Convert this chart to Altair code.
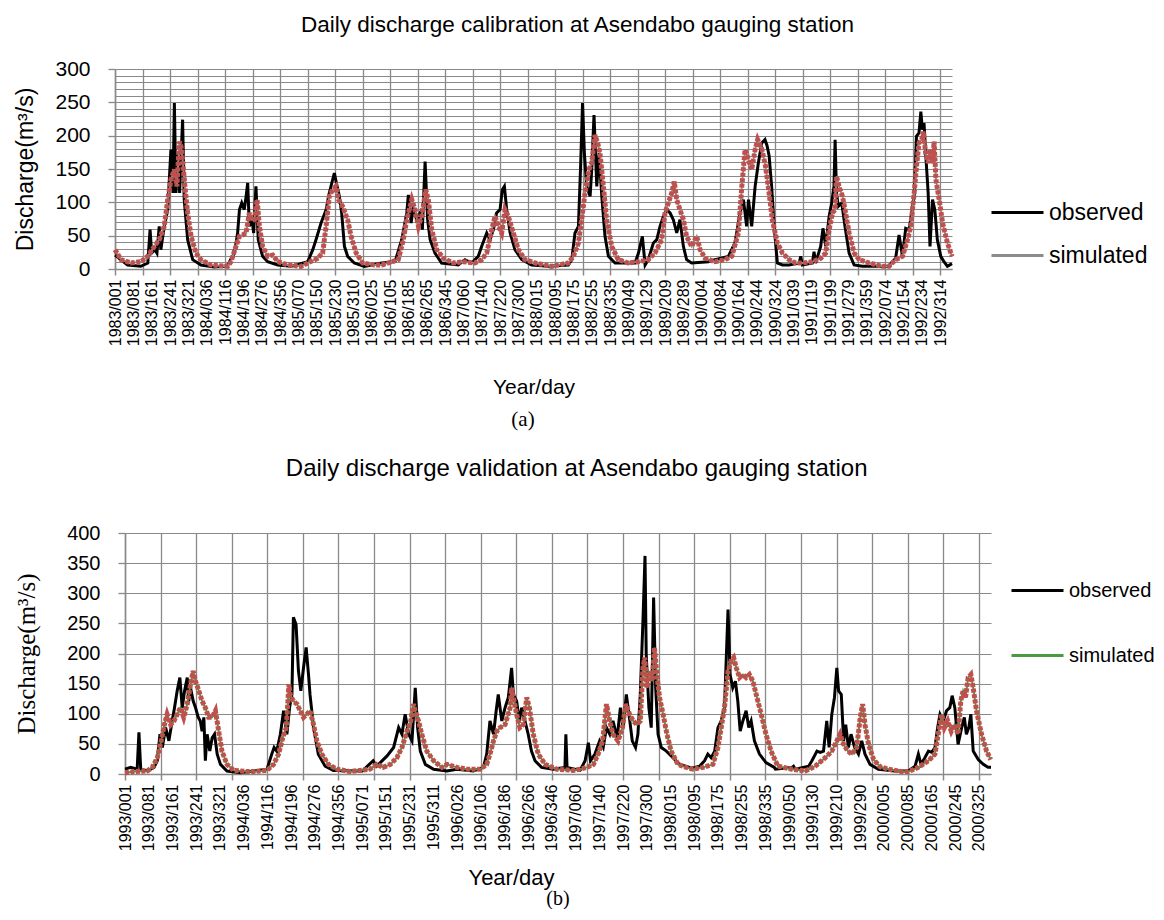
import json
import altair as alt
import pandas as pd

# ---------------- text ----------------
cal_title = "Daily discharge calibration at Asendabo gauging station"
val_title = "Daily discharge validation at Asendabo gauging station"
y_title = "Discharge(m³/s)"
x_title = "Year/day"
series_names = ["observed", "simulated"]
captions = ["(a)", "(b)"]

# tick labels, one every 80 days from the first day of each period
cal_ticks = ["1983/001", "1983/081", "1983/161", "1983/241", "1983/321",
             "1984/036", "1984/116", "1984/196", "1984/276", "1984/356",
             "1985/070", "1985/150", "1985/230", "1985/310",
             "1986/025", "1986/105", "1986/185", "1986/265", "1986/345",
             "1987/060", "1987/140", "1987/220", "1987/300",
             "1988/015", "1988/095", "1988/175", "1988/255", "1988/335",
             "1989/049", "1989/129", "1989/209", "1989/289",
             "1990/004", "1990/084", "1990/164", "1990/244", "1990/324",
             "1991/039", "1991/119", "1991/199", "1991/279", "1991/359",
             "1992/074", "1992/154", "1992/234", "1992/314"]
val_ticks = ["1993/001", "1993/081", "1993/161", "1993/241", "1993/321",
             "1994/036", "1994/116", "1994/196", "1994/276", "1994/356",
             "1995/071", "1995/151", "1995/231", "1995/311",
             "1996/026", "1996/106", "1996/186", "1996/266", "1996/346",
             "1997/060", "1997/140", "1997/220", "1997/300",
             "1998/015", "1998/095", "1998/175", "1998/255", "1998/335",
             "1999/050", "1999/130", "1999/210", "1999/290",
             "2000/005", "2000/085", "2000/165", "2000/245", "2000/325"]

# ---------------- data: (day index, discharge m3/s) ----------------
# calibration, day 0 = 1983/001
cal_observed = [
    (0, 21), (55, 6), (113, 4), (143, 9), (153, 59), (160, 24), (175, 29), (183, 24), (193, 64), (200, 29),
    (215, 64), (230, 89), (244, 179), (253, 114), (259, 249), (266, 114), (273, 174), (282, 114), (295, 224),
    (302, 104), (317, 44), (339, 14), (375, 6), (433, 3), (477, 4),
    (492, 6), (521, 24), (535, 54), (543, 89), (553, 99), (564, 89), (572, 109), (579, 129), (586, 64),
    (596, 79), (605, 54), (615, 124), (625, 44), (644, 19), (666, 11), (710, 6), (768, 4),
    (841, 11), (863, 29), (877, 44), (899, 69), (921, 89), (935, 114), (957, 144), (969, 124), (979, 109),
    (989, 84), (1001, 34), (1015, 19), (1044, 9), (1088, 4),
    (1164, 9), (1222, 11), (1251, 44), (1273, 84), (1280, 111), (1292, 69), (1302, 94), (1316, 74),
    (1331, 84), (1341, 59), (1353, 161), (1364, 74), (1375, 44), (1396, 24), (1425, 9), (1498, 6),
    (1527, 14), (1556, 9),
    (1585, 19), (1600, 34), (1622, 54), (1636, 44), (1651, 59), (1665, 84), (1680, 89), (1690, 119),
    (1699, 124), (1709, 89), (1724, 54), (1745, 29), (1775, 14), (1818, 6), (1891, 4), (1978, 6),
    (1993, 14), (2007, 54), (2022, 64), (2032, 159), (2040, 249), (2048, 174), (2058, 124), (2073, 109),
    (2080, 149), (2090, 231), (2102, 124), (2112, 174), (2124, 109), (2138, 49), (2153, 19), (2182, 9),
    (2240, 9),
    (2269, 9), (2284, 24), (2301, 49), (2313, 6), (2327, 14), (2349, 39), (2364, 44), (2378, 64),
    (2393, 79), (2407, 89), (2422, 84), (2436, 74), (2451, 54), (2465, 74), (2480, 34), (2494, 14),
    (2516, 9), (2589, 11), (2618, 14),
    (2676, 19), (2705, 39), (2727, 84), (2742, 104), (2756, 64), (2764, 104), (2778, 64), (2793, 124),
    (2807, 159), (2822, 189), (2836, 194), (2845, 185), (2854, 170), (2865, 124), (2876, 64), (2890, 9),
    (2912, 6),
    (2941, 6), (2985, 9), (2992, 19), (2999, 6), (3043, 9), (3050, 26), (3057, 9), (3079, 34), (3089, 61),
    (3101, 34), (3116, 79), (3127, 99), (3137, 124), (3142, 194), (3148, 114), (3156, 94), (3171, 99),
    (3185, 64), (3203, 24), (3225, 6), (3261, 4), (3319, 4),
    (3377, 4), (3406, 16), (3421, 51), (3436, 19), (3450, 61), (3465, 59), (3476, 84), (3487, 109),
    (3497, 199), (3508, 204), (3516, 236), (3523, 209), (3530, 219), (3537, 174), (3548, 114), (3556, 34),
    (3567, 104), (3577, 89), (3588, 44), (3603, 19), (3617, 11), (3632, 4), (3652, 8),
]
cal_simulated = [
    (0, 29), (26, 14), (70, 9), (113, 11), (143, 19), (172, 34), (193, 44), (215, 64), (230, 104),
    (244, 134), (259, 149), (270, 124), (281, 191), (288, 184), (295, 164), (305, 124), (317, 84),
    (332, 49), (353, 24), (375, 14), (419, 6), (492, 4),
    (506, 11), (528, 34), (543, 49), (557, 51), (572, 54), (586, 84), (596, 74), (608, 74), (620, 104),
    (630, 64), (644, 34), (666, 19), (688, 21), (710, 11), (753, 6), (812, 4),
    (841, 9), (884, 16), (906, 24), (921, 64), (935, 109), (950, 119), (964, 124), (975, 104), (993, 94),
    (1015, 74), (1030, 49), (1052, 24), (1081, 9), (1132, 6),
    (1164, 6), (1236, 14), (1258, 44), (1273, 74), (1295, 104), (1309, 89), (1324, 64), (1338, 79),
    (1356, 119), (1367, 104), (1382, 59), (1404, 29), (1433, 16), (1476, 9), (1520, 11), (1571, 9),
    (1600, 14), (1622, 24), (1644, 59), (1658, 79), (1673, 64), (1687, 54), (1702, 89), (1716, 79),
    (1738, 54), (1760, 29), (1789, 14), (1833, 9), (1905, 4), (1978, 9),
    (2000, 19), (2022, 39), (2036, 74), (2051, 114), (2068, 149), (2080, 159), (2094, 201), (2106, 189),
    (2116, 174), (2131, 124), (2145, 74), (2167, 34), (2196, 14), (2240, 9),
    (2284, 11), (2327, 14), (2356, 24), (2385, 44), (2400, 84), (2414, 99), (2429, 114), (2440, 131),
    (2451, 104), (2465, 89), (2480, 74), (2494, 49), (2516, 34), (2538, 49), (2553, 29), (2575, 16),
    (2618, 11),
    (2662, 14), (2691, 19), (2720, 54), (2735, 124), (2749, 179), (2764, 164), (2778, 149), (2793, 179),
    (2804, 194), (2822, 180), (2838, 155), (2854, 114), (2868, 74), (2890, 39), (2912, 24), (2941, 14),
    (2970, 9),
    (2999, 9), (3043, 11), (3079, 16), (3101, 24), (3116, 59), (3130, 84), (3142, 89), (3148, 139),
    (3159, 124), (3174, 109), (3188, 84), (3203, 54), (3225, 24), (3247, 14), (3290, 9), (3348, 4),
    (3377, 4), (3406, 14), (3436, 19), (3458, 44), (3472, 64), (3487, 114), (3497, 154), (3508, 189),
    (3520, 194), (3527, 206), (3537, 174), (3548, 159), (3556, 179), (3567, 159), (3574, 191), (3582, 134),
    (3596, 104), (3611, 69), (3632, 39), (3652, 19),
]

# validation, day 0 = 1993/001
val_observed = [
    (0, 8), (19, 11), (41, 8), (47, 69), (53, 8), (75, 5), (98, 11), (109, 22), (118, 66), (126, 44),
    (137, 77), (148, 55), (159, 88), (167, 110), (176, 138), (185, 160), (193, 110), (201, 138), (210, 160),
    (215, 121), (221, 143), (230, 121), (238, 110), (247, 94), (254, 88), (260, 71), (266, 94), (271, 22),
    (277, 66), (286, 38), (294, 60), (302, 66), (311, 33), (322, 16), (344, 5), (389, 2),
    (434, 5), (479, 8), (495, 33), (503, 44), (512, 38), (524, 66), (535, 105), (546, 66), (555, 110),
    (563, 132), (568, 260), (577, 248), (585, 171), (593, 138), (602, 176), (611, 210), (619, 165),
    (624, 132), (636, 77), (652, 33), (675, 13), (703, 6),
    (800, 5), (837, 22), (849, 13), (884, 30), (906, 44), (923, 77), (934, 66), (945, 99), (957, 66),
    (968, 55), (979, 143), (987, 77), (996, 38), (1013, 16), (1041, 8), (1086, 5),
    (1119, 8), (1175, 5), (1209, 11), (1220, 33), (1231, 88), (1243, 66), (1252, 105), (1259, 132),
    (1271, 88), (1282, 110), (1293, 127), (1304, 176), (1310, 132), (1321, 121), (1330, 88), (1338, 110),
    (1349, 88), (1360, 66), (1371, 38), (1383, 22), (1405, 11), (1444, 8), (1484, 11), (1487, 66),
    (1491, 11),
    (1535, 6), (1552, 22), (1563, 52), (1570, 22), (1585, 33), (1601, 55), (1613, 44), (1624, 77),
    (1635, 66), (1646, 88), (1660, 60), (1671, 110), (1680, 77), (1691, 132), (1700, 99), (1711, 55),
    (1722, 44), (1730, 66), (1738, 132), (1747, 254), (1754, 362), (1758, 199), (1767, 110), (1775, 77),
    (1783, 293), (1790, 143), (1798, 66), (1809, 44), (1826, 38), (1848, 27), (1871, 16), (1904, 11),
    (1916, 10), (1938, 13), (1955, 22), (1966, 33), (1977, 27), (1989, 38), (2000, 77), (2011, 88),
    (2022, 110), (2034, 273), (2041, 165), (2050, 143), (2059, 154), (2067, 121), (2075, 71), (2084, 88),
    (2095, 105), (2104, 77), (2112, 88), (2123, 55), (2140, 33), (2162, 19), (2190, 11),
    (2194, 8), (2250, 11), (2255, 13), (2261, 8), (2306, 13), (2317, 22), (2334, 38), (2345, 36),
    (2356, 38), (2367, 88), (2375, 44), (2384, 99), (2393, 127), (2401, 176), (2407, 138), (2416, 132),
    (2424, 55), (2431, 82), (2440, 44), (2449, 66), (2461, 44), (2474, 33), (2485, 55), (2496, 33),
    (2513, 16), (2541, 8), (2597, 5),
    (2642, 5), (2665, 13), (2676, 33), (2685, 16), (2698, 27), (2710, 38), (2721, 36), (2732, 44),
    (2741, 77), (2749, 99), (2760, 88), (2771, 105), (2782, 110), (2790, 130), (2799, 110), (2810, 49),
    (2822, 77), (2831, 94), (2838, 66), (2846, 77), (2853, 99), (2861, 38), (2878, 24), (2895, 16),
    (2911, 11), (2921, 11),
]
val_simulated = [
    (0, 2), (30, 4), (75, 5), (92, 11), (109, 27), (122, 55), (133, 82), (142, 99), (154, 82), (165, 88),
    (176, 99), (187, 110), (198, 94), (210, 116), (221, 149), (230, 171), (238, 154), (249, 138), (260, 121),
    (271, 110), (282, 94), (294, 94), (305, 105), (316, 71), (327, 38), (344, 16), (367, 6), (411, 4),
    (434, 4), (479, 6), (501, 16), (518, 33), (532, 60), (544, 77), (553, 149), (557, 132), (568, 121),
    (580, 116), (591, 105), (602, 94), (613, 99), (624, 105), (636, 82), (647, 55), (664, 33), (686, 16),
    (714, 8), (759, 4),
    (826, 8), (849, 16), (871, 11), (895, 16), (917, 27), (934, 44), (951, 71), (964, 88), (973, 116),
    (982, 99), (990, 88), (1001, 66), (1018, 38), (1041, 22), (1069, 11), (1086, 16),
    (1119, 11), (1153, 8), (1198, 8), (1220, 16), (1231, 33), (1243, 55), (1254, 71), (1265, 77),
    (1282, 82), (1299, 110), (1304, 143), (1310, 127), (1321, 99), (1332, 77), (1344, 82), (1355, 127),
    (1364, 110), (1377, 66), (1394, 33), (1417, 16), (1456, 8), (1512, 6),
    (1535, 8), (1557, 11), (1580, 16), (1596, 33), (1611, 55), (1624, 116), (1635, 88), (1646, 66),
    (1663, 55), (1678, 77), (1689, 116), (1702, 99), (1714, 88), (1727, 82), (1738, 88), (1747, 176),
    (1753, 193), (1761, 143), (1769, 171), (1778, 154), (1786, 210), (1794, 165), (1803, 127), (1815, 99),
    (1828, 66), (1842, 38), (1865, 16), (1893, 11),
    (1916, 8), (1950, 11), (1983, 16), (2000, 44), (2011, 77), (2022, 110), (2034, 171), (2045, 188),
    (2053, 193), (2062, 176), (2073, 160), (2084, 165), (2095, 160), (2106, 165), (2118, 154), (2129, 132),
    (2146, 99), (2162, 66), (2179, 38), (2202, 13),
    (2250, 8), (2295, 5), (2328, 13), (2362, 27), (2384, 38), (2401, 55), (2412, 66), (2424, 49),
    (2438, 38), (2452, 33), (2468, 44), (2480, 94), (2488, 116), (2496, 82), (2508, 49), (2525, 24),
    (2547, 12), (2575, 8), (2620, 4),
    (2642, 4), (2676, 11), (2710, 22), (2732, 33), (2743, 66), (2755, 99), (2764, 77), (2775, 88),
    (2787, 71), (2798, 82), (2810, 66), (2819, 121), (2827, 138), (2835, 127), (2844, 160), (2853, 165),
    (2861, 143), (2872, 105), (2889, 66), (2906, 38), (2920, 24),
]

# ---------------- style ----------------
SANS = "Liberation Sans"
SERIF = "Liberation Serif"
RED = "#C0504D"
GRID = "#898989"


def frame(pairs, name):
    return pd.DataFrame({"day": [p[0] for p in pairs],
                         "q": [p[1] for p in pairs],
                         "series": name})


def panel(obs, sim, ticks, last_day, ymax, ygrid, sim_color, w, h,
          ylab_size, ytitle_font, ytitle_size, ytitle_pad,
          xtitle_size, xtitle_pad, xtitle_x,
          leg_x, leg_y, leg_size, leg_row,
          caption, cap_x, cap_y, cap_size, title, title_size, title_offset, title_dx):
    df_obs = frame(obs, series_names[0])
    df_sim = frame(sim, series_names[1])

    every120 = {"condition": {"test": "datum.value % 120 === 0", "value": 1}, "value": 0}
    every50 = {"condition": {"test": "datum.value % 50 === 0", "value": 1}, "value": 0}

    xaxis_kw = dict(
        values=list(range(0, last_day + 1, 40)),
        labelExpr="datum.value % 80 === 0 ? " + json.dumps(ticks) + "[datum.value / 80] : ''",
        labelAngle=270, labelAlign="right", labelBaseline="middle",
        labelFont=SANS, labelFontSize=16, labelColor="black", labelPadding=4,
        labelOverlap=False, labelBound=False, labelFlush=False,
        tickSize=6, tickColor=GRID, tickWidth=1.5, tickOpacity=every120,
        grid=True, gridColor=GRID, gridWidth=1.3, gridOpacity=every120,
        domainColor=GRID, domainWidth=1.5,
        title=x_title, titleFont=SANS, titleFontSize=xtitle_size, titleFontWeight="normal",
        titleColor="black", titlePadding=xtitle_pad,
    )
    if xtitle_x is not None:
        xaxis_kw["titleX"] = xtitle_x
        xaxis_kw["titleAlign"] = "center"
    x = alt.X("day:Q", scale=alt.Scale(domain=[0, last_day], nice=False, zero=False),
              axis=alt.Axis(**xaxis_kw))
    y = alt.Y("q:Q", scale=alt.Scale(domain=[0, ymax], nice=False),
              axis=alt.Axis(values=list(range(0, ymax + 1, ygrid)),
                            labelExpr="datum.value % 50 === 0 ? datum.label : ''",
                            labelFont=SANS, labelFontSize=ylab_size, labelColor="black",
                            labelPadding=18, labelOverlap=False,
                            tickSize=7, tickColor=GRID, tickWidth=1.3, tickOpacity=every50,
                            grid=True, gridColor=GRID, gridWidth=1.2,
                            domainColor=GRID, domainWidth=1.5,
                            title=y_title, titleFont=ytitle_font, titleFontSize=ytitle_size,
                            titleFontWeight="normal", titleColor="black", titlePadding=ytitle_pad))
    color = alt.Color("series:N",
                      scale=alt.Scale(domain=series_names, range=["#000000", sim_color]),
                      legend=alt.Legend(title=None, orient="none", legendX=leg_x, legendY=leg_y,
                                        symbolType="stroke", symbolSize=2704, symbolStrokeWidth=3,
                                        labelFont=SANS, labelFontSize=leg_size, labelColor="black",
                                        labelOffset=4, rowPadding=leg_row))

    obs_line = alt.Chart(df_obs).mark_line(strokeWidth=3).encode(x=x, y=y, color=color)
    sim_line = alt.Chart(df_sim).mark_line(strokeWidth=2).encode(x=x, y=y, color=color)
    sim_dots = alt.Chart(df_sim).mark_line(color=RED, strokeWidth=5, strokeDash=[4, 1.5]).encode(x=x, y=y)
    cap = alt.Chart(pd.DataFrame({"t": [caption]})).mark_text(
        font=SERIF, fontSize=cap_size, color="black", align="center", baseline="middle"
    ).encode(text="t:N", x=alt.value(cap_x), y=alt.value(cap_y))

    body = alt.layer(obs_line, sim_line, sim_dots, cap).properties(
        width=w, height=h,
        title=alt.TitleParams(title, anchor="middle", frame="bounds", font=SANS,
                              fontSize=title_size, fontWeight="normal", color="black",
                              offset=title_offset, dx=title_dx),
    )
    # a 1-px invisible spacer on the left so each panel keeps its own left offset
    spacer = alt.Chart(pd.DataFrame({"s": [0]})).mark_point(size=0, opacity=0).properties(width=1, height=1)
    return alt.hconcat(spacer, body, spacing=0)


panel_a = panel(cal_observed, cal_simulated, cal_ticks, 3652, 300, 10, "#8c8c8c", 837, 200,
                21, SANS, 23, 17, 21, 31, None, 977, 116, 23, 3,
                captions[0], 408, 351, 21, cal_title, 22.5, 22, 89)
panel_b = panel(val_observed, val_simulated, val_ticks, 2921, 400, 50, "#4a9a3f", 866, 241,
                20, SERIF, 25, 27, 22, 17, 386, 997, 30, 20, 27,
                captions[1], 433, 366, 20, val_title, 24, 42, 69)

chart = (
    alt.concat(panel_a, panel_b, columns=1, spacing=27, align="none")
    .resolve_scale(color="independent")
    .resolve_legend(color="independent")
    .properties(padding={"left": 5, "top": 5, "right": 0, "bottom": 0})
    .configure(font=SANS)
    .configure_view(stroke=None)
)

chart.save("out.html", embed_options={"renderer": "svg", "actions": False})
